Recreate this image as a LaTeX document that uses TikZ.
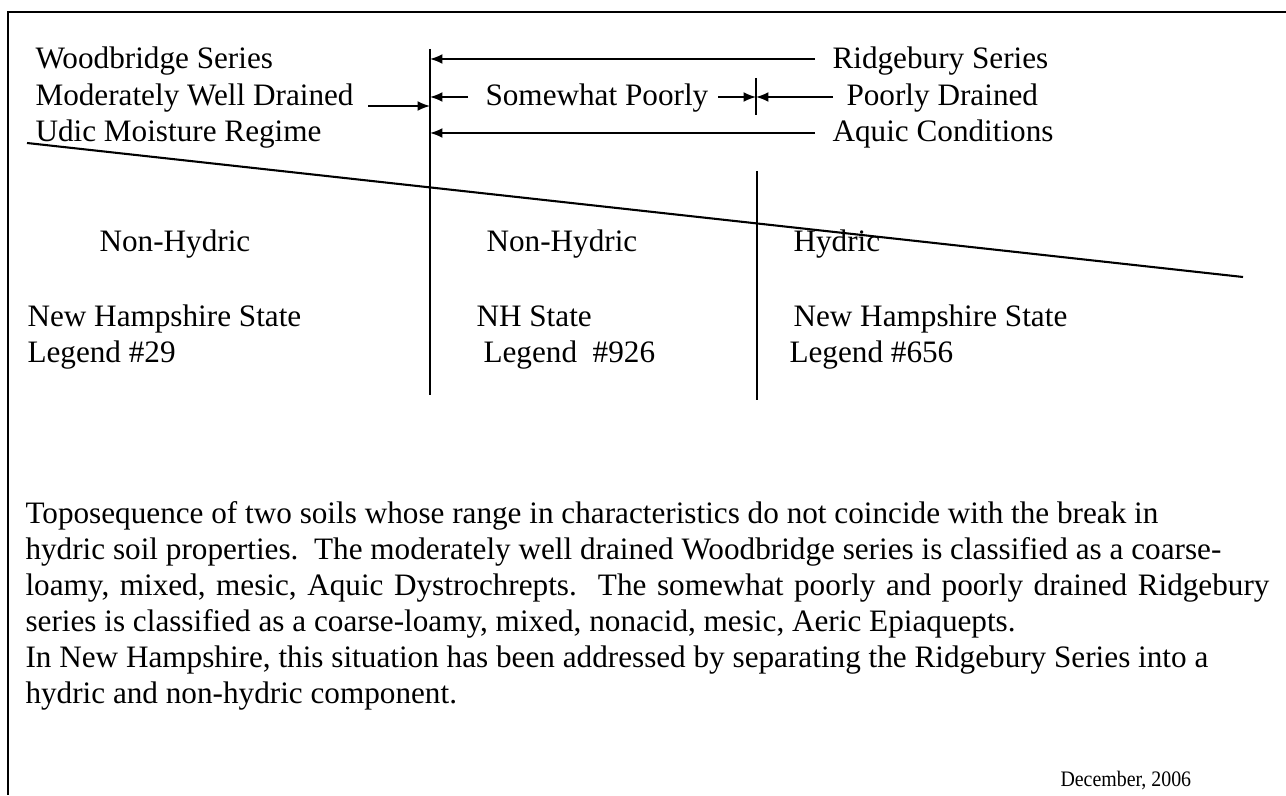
\documentclass[tikz,border=0pt]{standalone}
\usepackage{fontspec}
\setmainfont{Liberation Serif}
\usetikzlibrary{arrows.meta}
\begin{document}
\begin{tikzpicture}[x=0.3846pt, y=-0.3846pt, font=\fontsize{12}{14}\selectfont,
	lbl/.style={anchor=base west, inner sep=0pt},
	arr/.style={-{Latex[length=4.8pt, width=3.8pt]}, line width=0.6pt},
	rule/.style={line width=0.8pt}]
	\useasboundingbox (0,0) rectangle (1286,795);
	\draw[rule] (1286,12) -- (8,12) -- (8,795);
	\node[lbl] (Woodbridge) at (35,69) {Woodbridge Series};
	\node[lbl] (ModWell) at (35,106) {Moderately Well Drained};
	\node[lbl] (Udic) at (35,142) {Udic Moisture Regime};
	\node[lbl] (Ridgebury) at (832,69) {Ridgebury Series};
	\node[lbl] (SomewhatPoorly) at (485,106) {Somewhat Poorly};
	\node[lbl] (PoorlyDrained) at (846,106) {Poorly Drained};
	\node[lbl] (Aquic) at (832,142) {Aquic Conditions};
	\node[lbl] (NonHydricA) at (99,252) {Non-Hydric};
	\node[lbl] (NonHydricB) at (486,252) {Non-Hydric};
	\node[lbl] (Hydric) at (793,252) {Hydric};
	\node[lbl] (NHStateA) at (27,327) {New Hampshire State};
	\node[lbl] (LegendA) at (27,363) {Legend \#29};
	\node[lbl] (NHStateB) at (476,327) {NH State};
	\node[lbl] (LegendB) at (483,363) {Legend~~\#926};
	\node[lbl] (NHStateC) at (793,327) {New Hampshire State};
	\node[lbl] (LegendC) at (789,363) {Legend \#656};
	\node[lbl] (TextA) at (25,523) {Toposequence of two soils whose range in characteristics do not coincide with the break in};
	\node[lbl] (TextB) at (25,559) {hydric soil properties.\ \ The moderately well drained Woodbridge series is classified as a coarse-};
	\node[lbl] (TextC) at (25,595) {\spaceskip=1.35\fontdimen2\font loamy, mixed, mesic, Aquic Dystrochrepts.\ \ The somewhat poorly and poorly drained Ridgebury};
	\node[lbl] (TextD) at (25,631) {series is classified as a coarse-loamy, mixed, nonacid, mesic, Aeric Epiaquepts.};
	\node[lbl] (TextE) at (25,667) {In New Hampshire, this situation has been addressed by separating the Ridgebury Series into a};
	\node[lbl] (TextF) at (25,703) {hydric and non-hydric component.};
	\node[lbl, font=\fontsize{8.5}{10}\selectfont] (Date) at (1060,786) {\scalebox{0.9}[1]{December, 2006}};
	\coordinate (LineATop) at (430,49);
	\coordinate (LineABot) at (430,395);
	\coordinate (LineBTop) at (757,171);
	\coordinate (LineBBot) at (757,400);
	\coordinate (TickTop) at (756,78);
	\coordinate (TickBot) at (756,115);
	\coordinate (SlopeTop) at (27,143);
	\coordinate (SlopeBot) at (1243,277);
	\draw[rule] (LineATop) -- (LineABot);
	\draw[rule] (LineBTop) -- (LineBBot);
	\draw[rule] (SlopeTop) -- (SlopeBot);
	\draw[line width=0.6pt] (TickTop) -- (TickBot);
	\draw[arr] (815,59) -- (LineATop |- 0,59);
	\draw[arr] (368,106) -- (LineATop |- 0,106);
	\draw[arr] (468,97) -- (LineATop |- 0,97);
	\draw[arr] (718,97) -- (TickTop |- 0,97);
	\draw[arr] (833,97) -- (TickTop |- 0,97);
	\draw[arr] (815,133) -- (LineATop |- 0,133);
\end{tikzpicture}
\end{document}
